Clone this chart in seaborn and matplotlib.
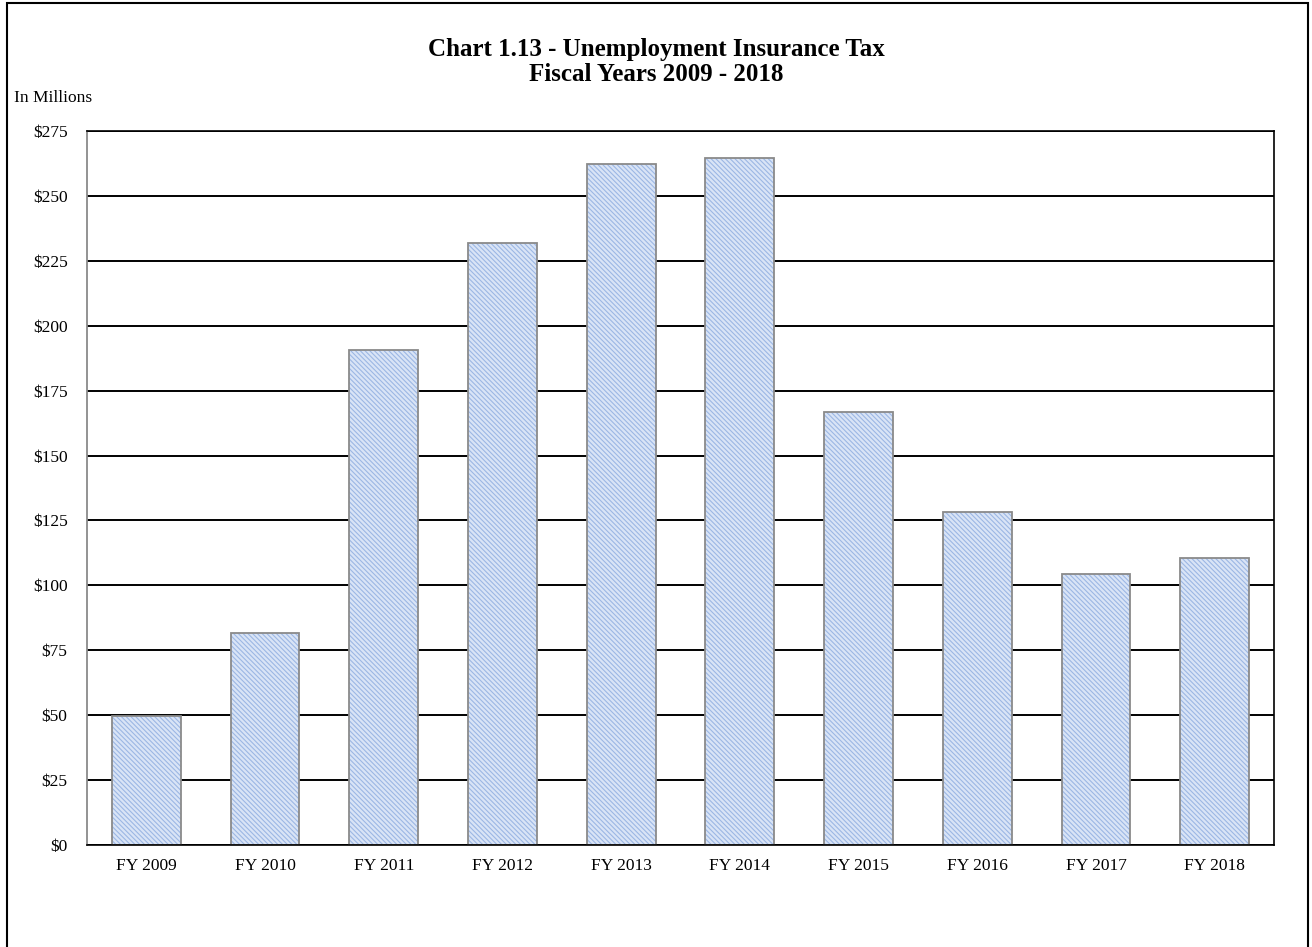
import matplotlib

matplotlib.use("Agg")
import matplotlib.pyplot as plt
import pandas as pd
import seaborn as sns

# values (in millions)
fiscal_years = ["FY 2009", "FY 2010", "FY 2011", "FY 2012", "FY 2013",
                "FY 2014", "FY 2015", "FY 2016", "FY 2017", "FY 2018"]
ui_tax = [49.5, 81.6, 190.6, 232.0, 262.3, 264.5, 166.9, 128.4, 104.2, 110.7]
y_ticks = [0, 25, 50, 75, 100, 125, 150, 175, 200, 225, 250, 275]

df = pd.DataFrame({"year": fiscal_years, "tax": ui_tax})

sns.set_style("white")
plt.rcParams["font.family"] = ["Liberation Serif", "DejaVu Serif"]
plt.rcParams["text.color"] = "black"
plt.rcParams["hatch.linewidth"] = 0.8

fig = plt.figure(figsize=(13.12, 9.47), dpi=100)
ax = fig.add_axes([87 / 1312, 1 - 845 / 947, (1274 - 87) / 1312, (845 - 131) / 947])

# gridlines behind bars
ax.set_axisbelow(True)
ax.yaxis.grid(True, color="black", linewidth=1.4)

# hatched fill layer
sns.barplot(data=df, x="year", y="tax", ax=ax, width=0.58,
            color="#d9e4f6", edgecolor="#9cb7e4", linewidth=0, saturation=1)
for p in ax.patches:
    p.set_hatch("\\" * 7)
# outline layer
sns.barplot(data=df, x="year", y="tax", ax=ax, width=0.58,
            fill=False, edgecolor="#8a8a8a", linewidth=1.3)

ax.set_ylim(0, 275)
ax.set_yticks(y_ticks)
ax.set_yticklabels([f"${v}" for v in y_ticks])
ax.set_xlim(-0.5, len(fiscal_years) - 0.5)
ax.set_xlabel("")
ax.set_ylabel("")
ax.tick_params(axis="both", length=0, labelsize=12.5, colors="black")
ax.tick_params(axis="y", pad=14)
ax.tick_params(axis="x", pad=9)

for side in ["top", "right", "bottom"]:
    ax.spines[side].set_color("black")
    ax.spines[side].set_linewidth(1.2)
ax.spines["left"].set_color("#8a8a8a")
ax.spines["left"].set_linewidth(1.3)

fig.text(656 / 1312, 1 - 62 / 947, "Chart 1.13 - Unemployment Insurance Tax\nFiscal Years 2009 - 2018",
         ha="center", va="center", fontsize=18, fontweight="bold", linespacing=1.15,
         color="black")
fig.text(14 / 1312, 1 - 98 / 947, "In Millions", ha="left", va="center", fontsize=12.5,
         color="black")

# outer chart border
fig.patches.append(plt.Rectangle((7 / 1312, -0.01), 1301 / 1312, 1 - 3 / 947 + 0.01,
                                 transform=fig.transFigure, fill=False,
                                 edgecolor="black", linewidth=1.5))

fig.savefig("out.png", dpi=100)
